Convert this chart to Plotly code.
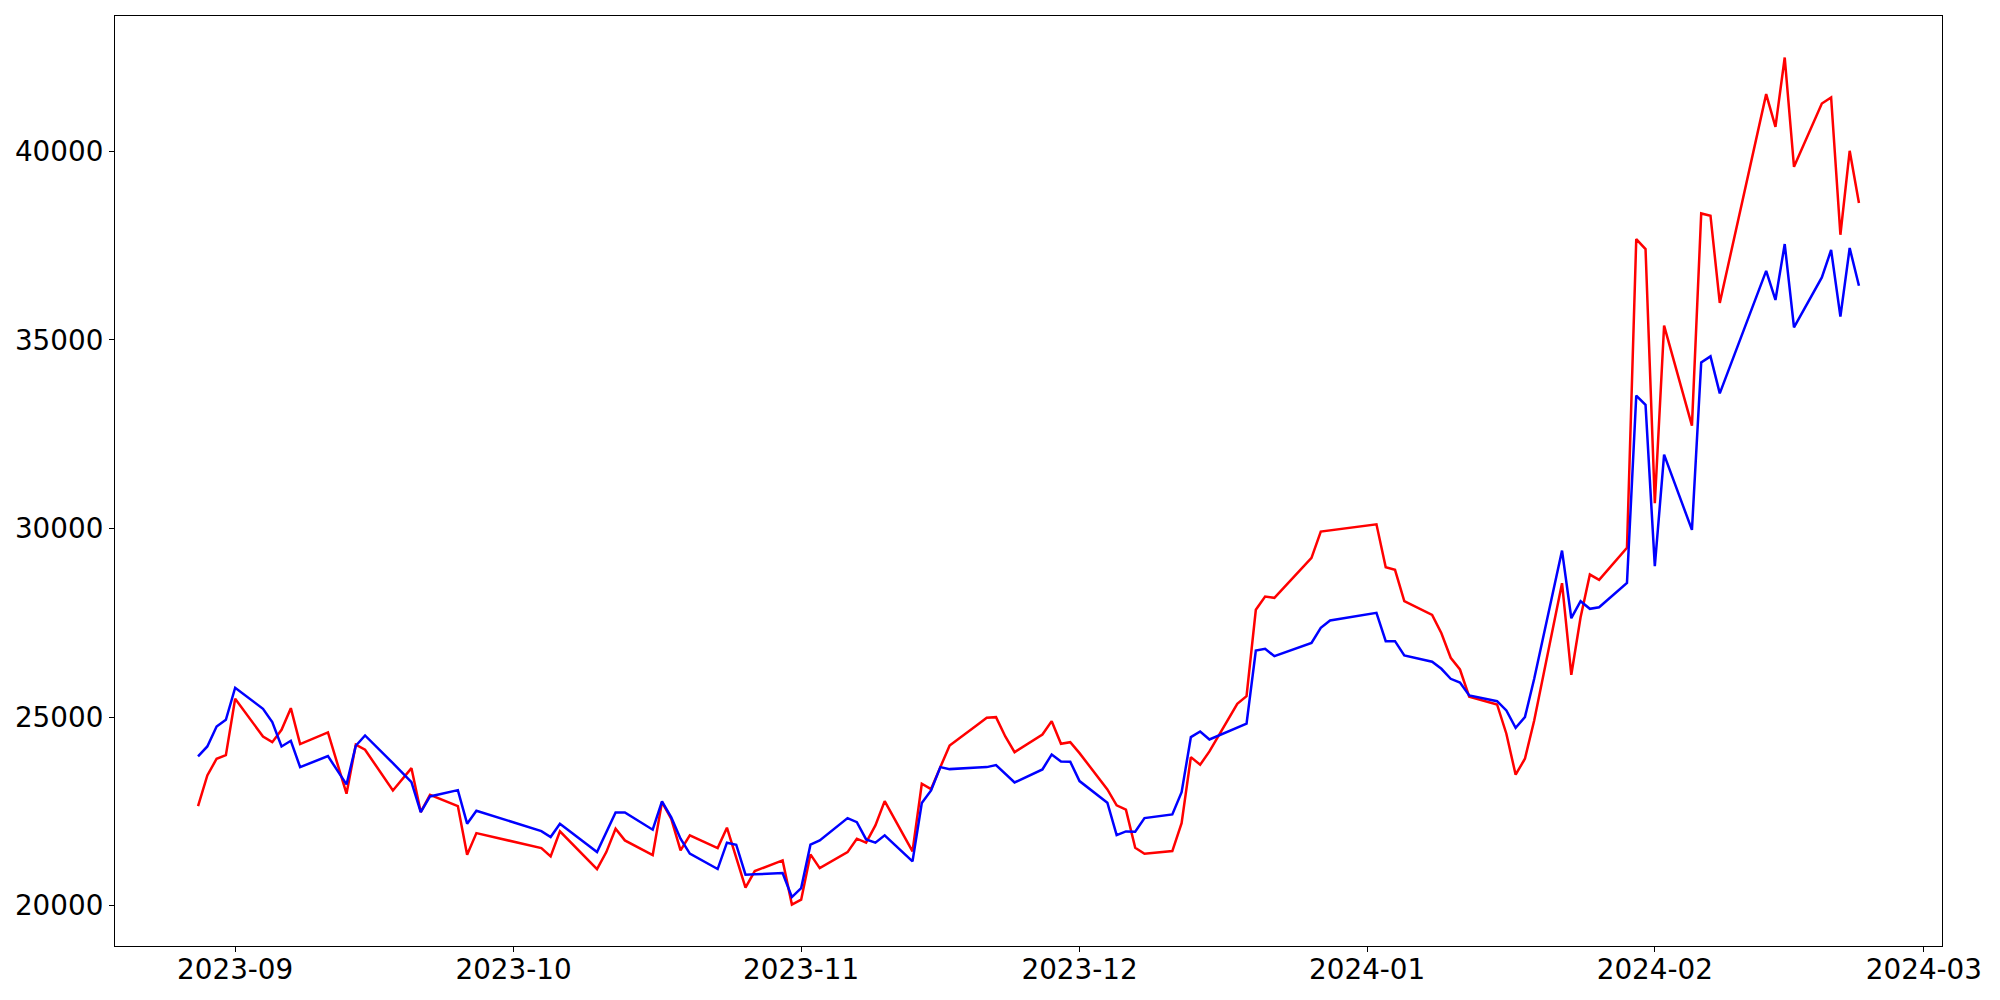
import plotly.graph_objects as go

dates = [
    "2023-08-28", "2023-08-29", "2023-08-30", "2023-08-31",
    "2023-09-01", "2023-09-04", "2023-09-05", "2023-09-06", "2023-09-07", "2023-09-08",
    "2023-09-11", "2023-09-12", "2023-09-13", "2023-09-14", "2023-09-15",
    "2023-09-18", "2023-09-19", "2023-09-20", "2023-09-21", "2023-09-22",
    "2023-09-25", "2023-09-26", "2023-09-27",
    "2023-10-04", "2023-10-05", "2023-10-06",
    "2023-10-10", "2023-10-11", "2023-10-12", "2023-10-13",
    "2023-10-16", "2023-10-17", "2023-10-18", "2023-10-19", "2023-10-20",
    "2023-10-23", "2023-10-24", "2023-10-25", "2023-10-26", "2023-10-27",
    "2023-10-30", "2023-10-31", "2023-11-01", "2023-11-02", "2023-11-03",
    "2023-11-06", "2023-11-07", "2023-11-08", "2023-11-09", "2023-11-10",
    "2023-11-13", "2023-11-14", "2023-11-15", "2023-11-16", "2023-11-17",
    "2023-11-20", "2023-11-21", "2023-11-22", "2023-11-23", "2023-11-24",
    "2023-11-27", "2023-11-28", "2023-11-29", "2023-11-30", "2023-12-01",
    "2023-12-04", "2023-12-05", "2023-12-06", "2023-12-07", "2023-12-08",
    "2023-12-11", "2023-12-12", "2023-12-13", "2023-12-14", "2023-12-15",
    "2023-12-18", "2023-12-19", "2023-12-20", "2023-12-21", "2023-12-22",
    "2023-12-26", "2023-12-27", "2023-12-28",
    "2024-01-02", "2024-01-03", "2024-01-04", "2024-01-05",
    "2024-01-08", "2024-01-09", "2024-01-10", "2024-01-11", "2024-01-12",
    "2024-01-15", "2024-01-16", "2024-01-17", "2024-01-18", "2024-01-19",
    "2024-01-22", "2024-01-23", "2024-01-24", "2024-01-25", "2024-01-26",
    "2024-01-29", "2024-01-30", "2024-01-31", "2024-02-01", "2024-02-02",
    "2024-02-05", "2024-02-06", "2024-02-07", "2024-02-08",
    "2024-02-13", "2024-02-14", "2024-02-15", "2024-02-16",
    "2024-02-19", "2024-02-20", "2024-02-21", "2024-02-22", "2024-02-23",
]

red_values = [
    22639, 23453, 23895, 23991,
    25485, 24486, 24335, 24664, 25236, 24282,
    24592, 23779, 22968, 24266, 24134,
    23055, 23355, 23646, 22480, 22941,
    22639, 21351, 21924,
    21526, 21306, 21969,
    20970, 21420, 22040, 21730,
    21341, 22745, 22300, 21465, 21863,
    21526, 22067, 21280, 20477, 20917,
    21200, 20030, 20159, 21359, 20996,
    21420, 21775, 21669, 22128, 22772,
    21439, 23233, 23090, 23673, 24248,
    24796, 24982, 24998, 24486, 24070,
    24539, 24892, 24293, 24335, 24044,
    23082, 22658, 22544, 21537, 21378,
    21447, 22189, 23938, 23737, 24089,
    25353, 25554, 27844, 28196, 28162,
    29222, 29918, 29953,
    30112, 28973, 28904, 28072,
    27711, 27224, 26572, 26262, 25540,
    25334, 24558, 23471, 23895, 24910,
    28549, 26121, 27648, 28779, 28639,
    29490, 37675, 37410, 30669, 35378,
    32728, 38354, 38293, 35980,
    41518, 40651, 42488, 39591,
    41269, 41428, 37789, 40015, 38630,
]

blue_values = [
    23956, 24221, 24751, 24929,
    25777, 25220, 24865, 24221, 24372, 23673,
    23964, 23585, 23214, 24240, 24513,
    23779, 23527, 23275, 22480, 22896,
    23063, 22173, 22517,
    21977, 21818, 22173,
    21420, 21950, 22472, 22472,
    22014, 22764, 22340, 21775, 21378,
    20970, 21669, 21616, 20821, 20830,
    20864, 20228, 20466, 21616, 21730,
    22321, 22215, 21757, 21669, 21863,
    21174, 22719, 23055, 23673, 23620,
    23665, 23673, 23726, 23498, 23267,
    23612, 24009, 23824, 23816, 23302,
    22730, 21871, 21969, 21961, 22321,
    22419, 23010, 24468, 24619, 24407,
    24711, 24823, 26765, 26810, 26614,
    26965, 27367, 27560,
    27764, 27012, 27012, 26633,
    26466, 26280, 26015, 25917, 25573,
    25422, 25175, 24717, 24998, 26015,
    29415, 27621, 28072, 27870, 27913,
    28559, 33523, 33277, 29000, 31959,
    29964, 34405, 34564, 33584,
    36830, 36059, 37543, 35333,
    36658, 37384, 35616, 37437, 36438,
]

y_ticks = [20000, 25000, 30000, 35000, 40000]

fig = go.Figure()
fig.add_trace(go.Scatter(x=dates, y=red_values, mode="lines",
                         line=dict(color="#ff0000", width=2.5), showlegend=False))
fig.add_trace(go.Scatter(x=dates, y=blue_values, mode="lines",
                         line=dict(color="#0000ff", width=2.5), showlegend=False))

axis_font = dict(family="DejaVu Sans", size=27.8, color="black")

fig.update_layout(
    width=1992, height=992,
    margin=dict(l=105, r=58, t=7, b=54, pad=0),
    paper_bgcolor="white", plot_bgcolor="white",
    xaxis=dict(
        type="date",
        range=["2023-08-19 01:12", "2024-03-02 22:48"],
        tick0="2023-09-01", dtick="M1", tickformat="%Y-%m",
        showgrid=False, zeroline=False,
        showline=True, mirror=True, linecolor="black", linewidth=1.2,
        ticks="outside", ticklen=5, tickwidth=1.2, tickcolor="black",
        tickfont=axis_font, ticklabelstandoff=-6,
    ),
    yaxis=dict(
        range=[18930, 43589],
        tickvals=y_ticks, tickformat="d",
        showgrid=False, zeroline=False,
        showline=True, mirror=True, linecolor="black", linewidth=1.2,
        ticks="outside", ticklen=5, tickwidth=1.2, tickcolor="black",
        tickfont=axis_font,
    ),
)

fig.write_html("out.html", config={"displayModeBar": False})
